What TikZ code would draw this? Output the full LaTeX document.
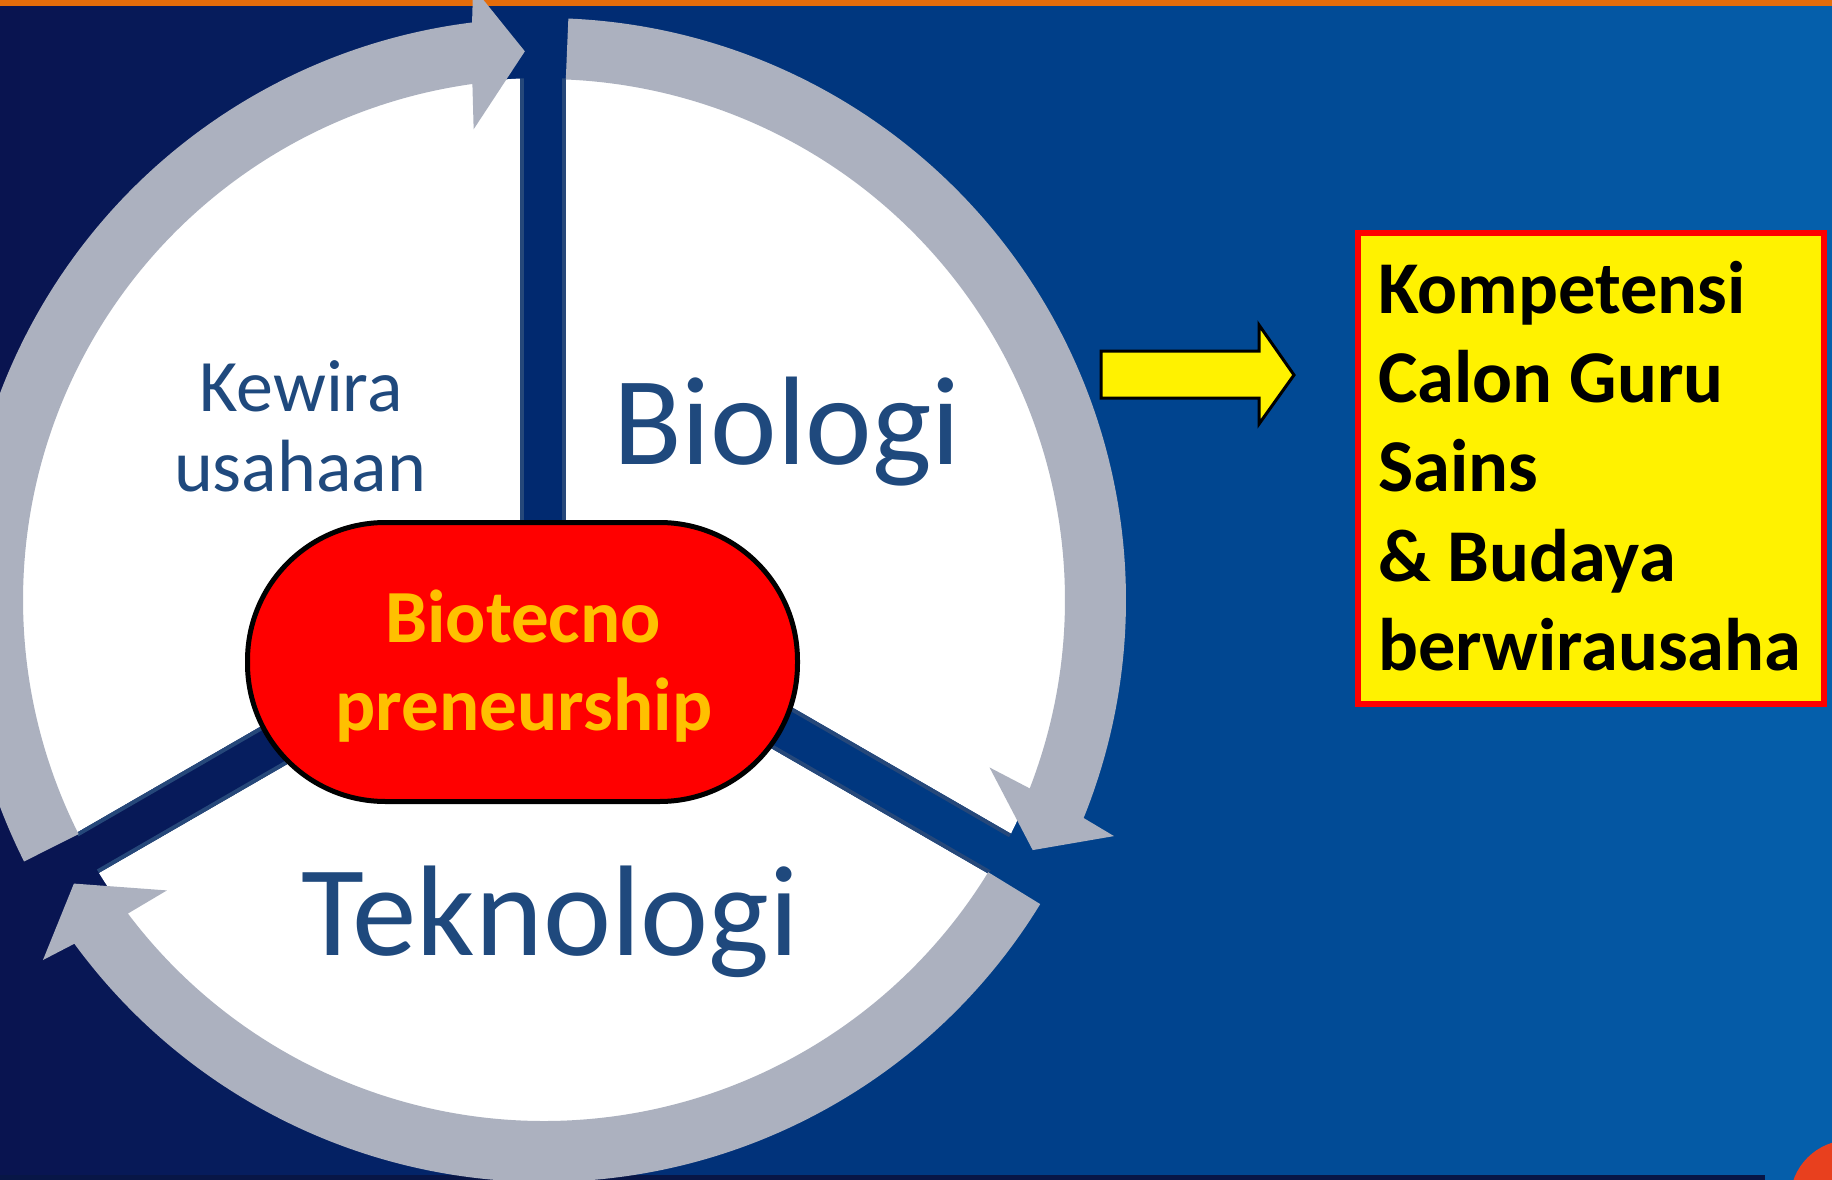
\documentclass[tikz,border=0pt]{standalone}
\usepackage{fontspec}
\setmainfont{Carlito}
\usetikzlibrary{calc}
\definecolor{ringgray}{RGB}{172,177,191}
\definecolor{txtblue}{RGB}{31,73,125}
\definecolor{gold}{RGB}{255,192,0}
\definecolor{topbar}{RGB}{228,108,10}
\definecolor{spokeedge}{RGB}{38,72,122}
\definecolor{sunred}{RGB}{232,64,30}
\definecolor{bottomstrip}{RGB}{8,22,70}
\newcommand\ringarrow[2]{%
  \fill[ringgray] ($(O)+(#1:582)$) arc[start angle=#1, end angle={#2-7.1}, radius=582]
    -- ($(O)+({#2-6.6}:617)$) -- ($(O)+({#2-2}:549)$) -- ($(O)+({#2-8.5}:476)$)
    -- ($(O)+({#2-7.9}:521)$) arc[start angle={#2-7.9}, end angle=#1, radius=521] -- cycle;
}
\newcommand\spokepoly[1]{($(S)+({#1+90}:23)$) -- ($(S)+({#1+90}:23)+(#1:800)$) -- ($(S)+({#1-90}:23)+(#1:800)$) -- ($(S)+({#1-90}:23)$) -- cycle}
\tikzset{
  lbl/.style={inner sep=0pt, anchor=base, text=txtblue},
  bigfont/.style={font=\fontsize{126}{130}\selectfont},
  tekfont/.style={font=\fontsize{129}{130}\selectfont},
  midfont/.style={font=\fontsize{74}{80}\selectfont},
  corefont/.style={font=\bfseries\fontsize{75}{80}\selectfont},
  boxtext/.style={inner sep=0pt, anchor=base west, text=black, font=\bfseries\fontsize{74.5}{80}\selectfont},
}
\begin{document}
\begin{tikzpicture}[x=1pt,y=-1pt]
\useasboundingbox (0,0) rectangle (1832,1180);
\clip (0,0) rectangle (1832,1180);
% background gradient
\foreach \i in {0,...,91} {
  \pgfmathsetmacro{\xx}{\i*20+10}
  \pgfmathsetmacro{\ta}{min(\xx,500)/500}
  \pgfmathsetmacro{\tb}{max(min(\xx,1100)-500,0)/600}
  \pgfmathsetmacro{\tc}{max(\xx-1100,0)/732}
  \pgfmathtruncatemacro{\cR}{10-8*\ta-2*\tb+6*\tc}
  \pgfmathtruncatemacro{\cG}{20+20*\ta+26*\tb+30*\tc}
  \pgfmathtruncatemacro{\cB}{80+30*\ta+30*\tb+32*\tc}
  \definecolor{bgc}{RGB}{\cR,\cG,\cB}
  \fill[bgc] (\i*20,0) rectangle (\i*20+21,1180);
}
\fill[topbar] (0,0) rectangle (1832,6);
\fill[bottomstrip] (0,1175) rectangle (1765,1180);
\fill[sunred] (1850,1200) circle[radius=60];
% centres
\coordinate (O) at (544,600);
\coordinate (S) at (543,590);
% white wedges
\begin{scope}[even odd rule]
\clip (-10,-10) rectangle (1842,1190) \spokepoly{-90} \spokepoly{30} \spokepoly{150};
\fill[white] (O) circle[radius=522];
\end{scope}
\begin{scope}
\clip (O) circle[radius=522];
\foreach \a in {-90,30,150} {
  \draw[spokeedge, line width=4pt] ($(S)+(\a+90:21)$) -- ++(\a:800);
  \draw[spokeedge, line width=4pt] ($(S)+(\a-90:21)$) -- ++(\a:800);
}
\end{scope}
% ring arrows
\ringarrow{-87.6}{29.1}
\ringarrow{31.5}{150.9}
\ringarrow{153.3}{270}
% labels in the wedges
\node[lbl, bigfont] (bio) at (787,464) {Biologi};
\node[lbl, tekfont] (tek) at (550,955) {Teknologi};
\node[lbl, midfont] (kew1) at (301,411) {Kewira};
\node[lbl, midfont] (kew2) at (300,491) {usahaan};
% core
\node[draw=black, line width=5pt, fill=red, rounded corners=138pt, minimum width=550pt, minimum height=279pt, inner sep=0pt] (core) at (522.5,662) {};
\node[inner sep=0pt, anchor=base, text=gold, corefont] (core1) at (523,642) {Biotecno};
\node[inner sep=0pt, anchor=base, text=gold, corefont] (core2) at (524,730) {preneurship};
% yellow arrow
\draw[black, line width=3pt, fill=yellow, line join=miter]
  (1101,351) -- (1259,351) -- (1259,325) -- (1294,375) -- (1259,424) -- (1259,398) -- (1101,398) -- cycle;
% result box
\node[draw=red, line width=6pt, fill=yellow, minimum width=466pt, minimum height=471pt, inner sep=0pt] (box) at (1591,468.5) {};
\node[boxtext] (b1) at (1378,313) {Kompetensi};
\node[boxtext] (b2) at (1378,402) {Calon Guru};
\node[boxtext] (b3) at (1378,491) {Sains};
\node[boxtext] (b4) at (1378,581) {\& Budaya};
\node[boxtext] (b5) at (1378,670) {berwirausaha};
\end{tikzpicture}
\end{document}
